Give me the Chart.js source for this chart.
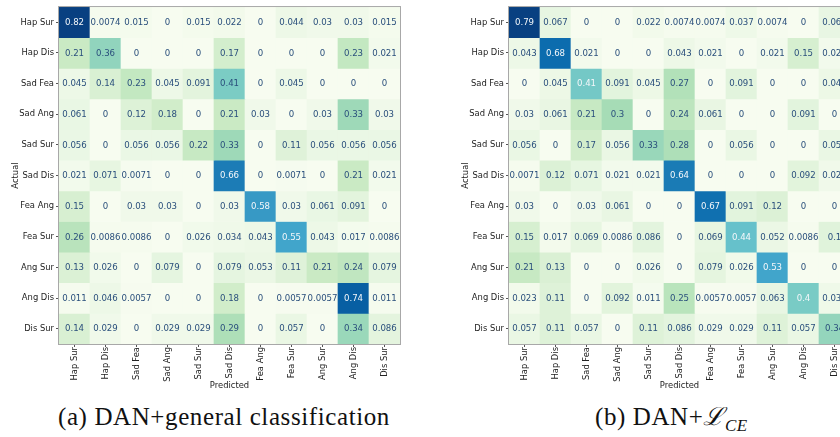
<!DOCTYPE html>
<html>
<head>
<meta charset="utf-8">
<script src="https://cdn.jsdelivr.net/npm/chart.js@4.4.0/dist/chart.umd.min.js"></script>
<style>
  html, body { margin: 0; padding: 0; background: #fff; overflow: hidden; }
  body { width: 840px; height: 437px; position: relative; }
  canvas { position: absolute; top: 0; }
  .cap { position: absolute; top: 404px; font-family: "Liberation Serif", "DejaVu Serif", serif; font-size: 25px; letter-spacing: 0.6px; line-height: 1; color: #111; white-space: nowrap; }
  .cap i { font-size: 17px; letter-spacing: 0.3px; }
</style>
</head>
<body>
<canvas id="cmA" width="410" height="392" style="left:0"></canvas>
<canvas id="cmB" width="410" height="392" style="left:450px"></canvas>
<div class="cap" style="left:58px">(a) DAN+general classification</div>
<div class="cap" style="left:595px">(b) DAN+<span style="font-family:'DejaVu Serif',serif;font-style:italic">ℒ</span><sub><i>CE</i></sub></div>
<script>
const labels = ["Hap Sur", "Hap Dis", "Sad Fea", "Sad Ang", "Sad Sur", "Sad Dis",
                "Fea Ang", "Fea Sur", "Ang Sur", "Ang Dis", "Dis Sur"];

// (a) DAN + general classification, rows = actual
const generalCm = [
  [0.82, 0.0074, 0.015, 0, 0.015, 0.022, 0, 0.044, 0.03, 0.03, 0.015],
  [0.21, 0.36, 0, 0, 0, 0.17, 0, 0, 0, 0.23, 0.021],
  [0.045, 0.14, 0.23, 0.045, 0.091, 0.41, 0, 0.045, 0, 0, 0],
  [0.061, 0, 0.12, 0.18, 0, 0.21, 0.03, 0, 0.03, 0.33, 0.03],
  [0.056, 0, 0.056, 0.056, 0.22, 0.33, 0, 0.11, 0.056, 0.056, 0.056],
  [0.021, 0.071, 0.0071, 0, 0, 0.66, 0, 0.0071, 0, 0.21, 0.021],
  [0.15, 0, 0.03, 0.03, 0, 0.03, 0.58, 0.03, 0.061, 0.091, 0],
  [0.26, 0.0086, 0.0086, 0, 0.026, 0.034, 0.043, 0.55, 0.043, 0.017, 0.0086],
  [0.13, 0.026, 0, 0.079, 0, 0.079, 0.053, 0.11, 0.21, 0.24, 0.079],
  [0.011, 0.046, 0.0057, 0, 0, 0.18, 0, 0.0057, 0.0057, 0.74, 0.011],
  [0.14, 0.029, 0, 0.029, 0.029, 0.29, 0, 0.057, 0, 0.34, 0.086]
];

// (b) DAN + L_CE
const ceCm = [
  [0.79, 0.067, 0, 0, 0.022, 0.0074, 0.0074, 0.037, 0.0074, 0, 0.063],
  [0.043, 0.68, 0.021, 0, 0, 0.043, 0.021, 0, 0.021, 0.15, 0.021],
  [0, 0.045, 0.41, 0.091, 0.045, 0.27, 0, 0.091, 0, 0, 0.045],
  [0.03, 0.061, 0.21, 0.3, 0, 0.24, 0.061, 0, 0, 0.091, 0],
  [0.056, 0, 0.17, 0.056, 0.33, 0.28, 0, 0.056, 0, 0, 0.056],
  [0.0071, 0.12, 0.071, 0.021, 0.021, 0.64, 0, 0, 0, 0.092, 0.028],
  [0.03, 0, 0.03, 0.061, 0, 0, 0.67, 0.091, 0.12, 0, 0],
  [0.15, 0.017, 0.069, 0.0086, 0.086, 0, 0.069, 0.44, 0.052, 0.0086, 0.1],
  [0.21, 0.13, 0, 0, 0.026, 0, 0.079, 0.026, 0.53, 0, 0],
  [0.023, 0.11, 0, 0.092, 0.011, 0.25, 0.0057, 0.0057, 0.063, 0.4, 0.034],
  [0.057, 0.11, 0.057, 0, 0.11, 0.086, 0.029, 0.029, 0.11, 0.057, 0.34]
];

// matplotlib GnBu
const gnbuStops = ["#f7fcf0", "#e0f3db", "#ccebc5", "#a8ddb5", "#7bccc4",
                   "#4eb3d3", "#2b8cbe", "#0868ac", "#084081"];

function hexRgb(h) {
  return [1, 3, 5].map(i => parseInt(h.slice(i, i + 2), 16));
}

function gnbu(t) {
  t = Math.max(0, Math.min(1, t));
  const p = t * (gnbuStops.length - 1);
  const i = Math.min(Math.floor(p), gnbuStops.length - 2);
  const f = p - i;
  const a = hexRgb(gnbuStops[i]), b = hexRgb(gnbuStops[i + 1]);
  const c = a.map((v, k) => Math.round(v + (b[k] - v) * f));
  return "rgb(" + c.join(",") + ")";
}

const tickFont = { family: "DejaVu Sans", size: 8.4 };

const cellText = {
  id: "cellText",
  afterDatasetsDraw(chart) {
    const ctx = chart.ctx;
    const vmax = Math.max(...chart.data.datasets.flatMap(d => d.values));
    ctx.save();
    ctx.font = "8.6px 'DejaVu Sans'";
    ctx.textAlign = "center";
    ctx.textBaseline = "middle";
    chart.data.datasets.forEach((ds, r) => {
      chart.getDatasetMeta(r).data.forEach((bar, c) => {
        const v = ds.values[c];
        ctx.fillStyle = v / vmax > 0.502 ? "#f4f7fa" : "#2a4f7c";
        ctx.fillText(String(v), bar.x, (bar.y + bar.base) / 2 + 0.5);
      });
    });
    ctx.restore();
  },
  afterDraw(chart) {
    const a = chart.chartArea;
    const ctx = chart.ctx;
    ctx.save();
    ctx.strokeStyle = "#a8a8a8";
    ctx.lineWidth = 1;
    ctx.strokeRect(a.left - 0.5, a.top - 0.5, a.right - a.left + 1, a.bottom - a.top + 1);
    ctx.restore();
  }
};

function drawMatrix(id, matrix) {
  const vmax = Math.max(...matrix.flat());
  const datasets = matrix.map((row, r) => ({
    label: labels[r],
    data: row.map(() => [r, r + 1]),
    values: row,
    backgroundColor: row.map(v => gnbu(v / vmax)),
    borderWidth: 0,
    barPercentage: 1,
    categoryPercentage: 1,
    grouped: false
  }));

  return new Chart(document.getElementById(id).getContext("2d"), {
    type: "bar",
    data: { labels: labels, datasets: datasets },
    options: {
      responsive: false,
      animation: false,
      layout: { padding: { left: 0, top: 3, right: 10, bottom: 0 } },
      plugins: { legend: { display: false }, tooltip: { enabled: false } },
      scales: {
        x: {
          offset: true,
          grid: { drawOnChartArea: false, offset: false, tickLength: 3, color: "#555" },
          border: { display: false },
          ticks: { minRotation: 90, maxRotation: 90, autoSkip: false, padding: 0, font: tickFont, color: "#222" },
          title: { display: true, text: "Predicted", font: tickFont, color: "#222", padding: { top: 0, bottom: 1 } },
          afterFit: s => { s.height = 48; }
        },
        y: {
          type: "linear",
          min: 0,
          max: 11,
          reverse: true,
          afterBuildTicks: s => { s.ticks = labels.map((_, i) => ({ value: i + 0.5 })); },
          grid: { drawOnChartArea: false, tickLength: 3, color: "#555" },
          border: { display: false },
          ticks: { callback: (v, i) => labels[i], autoSkip: false, padding: 2, font: tickFont, color: "#222" },
          title: { display: true, text: "Actual", font: tickFont, color: "#222", padding: { top: 11, bottom: 0 } },
          afterFit: s => { s.width = 59; }
        }
      }
    },
    plugins: [cellText]
  });
}

drawMatrix("cmA", generalCm);
drawMatrix("cmB", ceCm);
</script>
</body>
</html>
